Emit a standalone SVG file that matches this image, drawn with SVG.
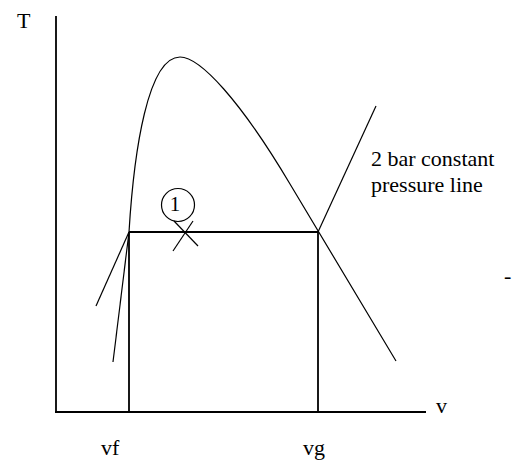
<svg xmlns="http://www.w3.org/2000/svg" width="520" height="460" viewBox="0 0 520 460">
<style>
.ax{stroke:#000;stroke-width:1.8;fill:none}
.ln{stroke:#000;stroke-width:1.2;fill:none}
</style>
<rect width="520" height="460" fill="#fff"/>
<g font-family="'Liberation Serif', 'Times New Roman', serif" font-size="22" fill="#000">
<g id="axes">
<line class="ax" x1="56" y1="16" x2="56" y2="413"/>
<line class="ax" x1="55" y1="412" x2="426" y2="412"/>
<text x="17" y="28">T</text>
<text x="436" y="413">v</text>
</g>
<g id="connectors">
<path class="ln" d="M129,232 C134,150 148,57 180,57 C200,57 240,100 290,184 L396,361"/>
<line class="ln" x1="129" y1="232" x2="113" y2="362"/>
<line class="ln" x1="129" y1="232" x2="96" y2="306"/>
<line class="ln" x1="318" y1="232" x2="376" y2="106"/>
<line class="ax" x1="129" y1="232" x2="318" y2="232"/>
<line class="ax" x1="129" y1="232" x2="129" y2="412"/>
<line class="ax" x1="318" y1="232" x2="318" y2="412"/>
</g>
<g id="state1">
<circle class="ln" cx="178" cy="205" r="16.5"/>
<text x="175" y="211" text-anchor="middle" font-size="21">1</text>
<line class="ln" x1="174" y1="221" x2="198" y2="246"/>
<line class="ln" x1="193" y1="221" x2="173" y2="251"/>
</g>
<g id="label">
<text x="371" y="166">2 bar constant</text>
<text x="371" y="192">pressure line</text>
</g>
<g id="ticks">
<text x="101" y="455">vf</text>
<text x="303" y="455">vg</text>
<text x="504" y="283">-</text>
</g>
</g>
</svg>
